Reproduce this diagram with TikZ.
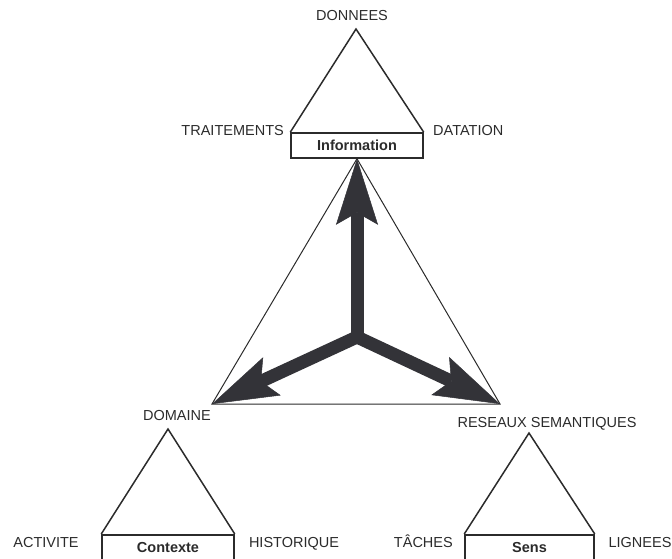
\documentclass[tikz,border=0pt]{standalone}
\usepackage{fontspec}
\setmainfont{Liberation Sans}
\usetikzlibrary{arrows.meta}
\definecolor{ink}{HTML}{2B2B2B}
\definecolor{arrowgrey}{HTML}{333338}

\begin{document}
\begin{tikzpicture}[x=1pt, y=-1pt, font=\fontsize{14.5}{16}\selectfont,
	lbl/.style = {text=ink, inner sep=0pt, anchor=base},
	box/.style = {draw=ink, line width=1.5pt, minimum width=132pt, minimum height=25pt, inner sep=0pt, text=ink, font=\fontsize{14.5}{16}\selectfont\bfseries},
	side/.style = {draw=ink, line width=1.5pt, line join=miter},
	big/.style = {draw=ink, line width=1pt, line join=miter},
	fat/.style = {draw=arrowgrey, line width=13pt, -{Stealth[length=66pt, width=42pt, inset=12pt, line width=0.5pt]}}]
	\useasboundingbox (0,0) rectangle (672,558);
	\clip (0,0) rectangle (672,558);
	% boxes
	\node[box] (info) at (357,145.5) {Information};
	\node[box, anchor=north] (contexte) at (168,534) {Contexte};
	\node[box, anchor=north, minimum width=129pt] (sens) at (529.5,534) {Sens};
	% tops of the small triangles
	\coordinate (infotop) at (356,29);
	\coordinate (contextetop) at (168,429);
	\coordinate (senstop) at (529,433);
	\draw[side] (info.north west) -- (infotop) -- (info.north east);
	\draw[side] (contexte.north west) -- (contextetop) -- (contexte.north east);
	\draw[side] (sens.north west) -- (senstop) -- (sens.north east);
	% big triangle
	\coordinate (centre) at (357,337);
	\coordinate (dom) at (212,404);
	\coordinate (res) at (500,404);
	\draw[big] (info.south) -- (dom) -- (res) -- cycle;
	\draw[fat] (centre) -- (info.south);
	\draw[fat] (centre) -- (dom);
	\draw[fat] (centre) -- (res);
	% labels
	\node[lbl] (donnees) at (352,20) {DONNEES};
	\node[lbl, anchor=base east] (traitements) at (284,135) {TRAITEMENTS};
	\node[lbl, anchor=base west] (datation) at (433,135) {DATATION};
	\node[lbl] (domaine) at (177,420) {DOMAINE};
	\node[lbl] (reseaux) at (547,427) {RESEAUX SEMANTIQUES};
	\node[lbl] (activite) at (46,547) {ACTIVITE};
	\node[lbl] (historique) at (294,547) {HISTORIQUE};
	\node[lbl, anchor=base east] (taches) at (453,547) {TÂCHES};
	\node[lbl] (lignees) at (640,547) {LIGNEES};
\end{tikzpicture}
\end{document}
